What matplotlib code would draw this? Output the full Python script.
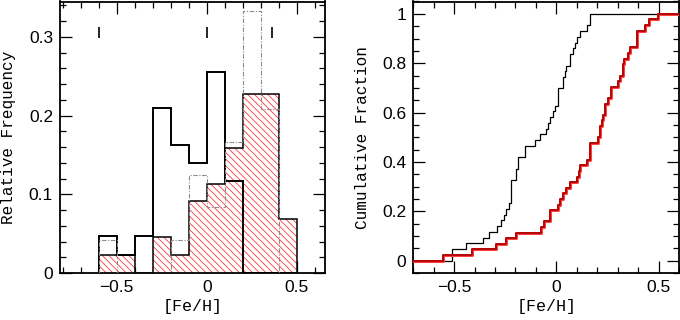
import numpy as np
import matplotlib
matplotlib.use("Agg")
import matplotlib.pyplot as plt
from matplotlib.ticker import MultipleLocator, FuncFormatter

# ---------------- data ----------------
bin_edges = np.round(np.arange(-0.6, 0.51, 0.1), 2)

# sorted [Fe/H] of the two samples
black_feh = [-0.513, -0.513, -0.443, -0.361, -0.331,
             -0.292, -0.270, -0.258, -0.246, -0.233, -0.221, -0.221, -0.221, -0.221,
             -0.199, -0.199, -0.190, -0.190, -0.155, -0.155,
             -0.107, -0.082, -0.053, -0.041, -0.030, -0.016, -0.008,
             0.008, 0.008, 0.008, 0.030, 0.030, 0.041, 0.049, 0.069, 0.069, 0.079, 0.090,
             0.102, 0.118, 0.148, 0.164, 0.164]
red_feh = [-0.553, -0.413, -0.295, -0.246, -0.197,
           -0.074, -0.062, -0.030, -0.030,
           0.008, 0.020, 0.030, 0.046, 0.069,
           0.102, 0.111, 0.118, 0.152, 0.164, 0.164, 0.164,
           0.205, 0.213, 0.213, 0.221, 0.229, 0.238, 0.238, 0.251, 0.267, 0.267,
           0.303, 0.311, 0.325, 0.325, 0.331, 0.352, 0.361, 0.394, 0.394, 0.394,
           0.434, 0.451, 0.499]
# third (comparison) sample, counts per bin
gray_counts = [1, 0, 0, 0, 1, 3, 2, 4, 8, 5, 0]
# short markers at top of the histogram panel
mark_feh = [-0.60, 0.00, 0.36]

# ---------------- derived ----------------
black_counts, _ = np.histogram(black_feh, bins=bin_edges)
red_counts, _ = np.histogram(red_feh, bins=bin_edges)
black_frac = black_counts / len(black_feh)
red_frac = red_counts / len(red_feh)
gray_frac = np.array(gray_counts) / np.sum(gray_counts)
centers = 0.5 * (bin_edges[:-1] + bin_edges[1:])
widths = np.diff(bin_edges)

plt.rcParams["hatch.linewidth"] = 0.55
tick_font = "Liberation Sans"
label_font = "Liberation Mono"


def fmt(v, pos):
    if abs(v) < 1e-9:
        return "0"
    return f"{v:g}".replace("-", "\u2212")


def style(ax, xmaj, xmin, ymaj, ymin):
    ax.xaxis.set_major_locator(MultipleLocator(xmaj))
    ax.xaxis.set_minor_locator(MultipleLocator(xmin))
    ax.yaxis.set_major_locator(MultipleLocator(ymaj))
    ax.yaxis.set_minor_locator(MultipleLocator(ymin))
    ax.xaxis.set_major_formatter(FuncFormatter(fmt))
    ax.yaxis.set_major_formatter(FuncFormatter(fmt))
    ax.tick_params(which="both", direction="in", top=True, right=True,
                   width=0.9, colors="black")
    ax.tick_params(which="major", length=8.5, labelsize=12.5, pad=5)
    ax.tick_params(which="minor", length=4.5)
    for lab in ax.get_xticklabels() + ax.get_yticklabels():
        lab.set_fontfamily(tick_font)
    for s in ax.spines.values():
        s.set_linewidth(1.3)


fig = plt.figure(figsize=(6.8, 3.2), dpi=100)

# ---------------- left: histograms ----------------
ax1 = fig.add_axes([60 / 680, 47 / 320, 265 / 680, 271.5 / 320])
ax1.bar(centers, red_frac, width=widths, color="white", edgecolor="#ff2a2a",
        hatch="\\\\\\\\\\", linewidth=0, zorder=2)
ax1.stairs(red_frac, bin_edges, baseline=0, color="black", linewidth=1.1, zorder=3)
ax1.stairs(black_frac, bin_edges, baseline=0, color="black", linewidth=1.4, zorder=4)
ax1.stairs(gray_frac, bin_edges, baseline=0, color="0.55", linewidth=0.8,
           linestyle=(0, (4, 1.5, 1, 1.5)), zorder=5)
ax1.vlines(mark_feh, 0.298, 0.313, color="black", linewidth=1.2, zorder=6)
ax1.set_xlim(-0.815, 0.657)
ax1.set_ylim(0, 0.345)
style(ax1, 0.5, 0.1, 0.1, 0.02)
ax1.set_xlabel("[Fe/H]", fontfamily=label_font, fontsize=12, labelpad=3)
ax1.set_ylabel("Relative Frequency", fontfamily=label_font, fontsize=11.5, labelpad=9.5)

# ---------------- right: cumulative ----------------
ax2 = fig.add_axes([413.3 / 680, 47 / 320, 265.7 / 680, 271.5 / 320])
xlo, xhi = -0.7, 0.6


def cdf_xy(vals):
    v = np.sort(vals)
    n = len(v)
    x = np.concatenate([[xlo], v, [xhi]])
    y = np.concatenate([[0], np.arange(1, n + 1) / n, [1]])
    return x, y


bx, by = cdf_xy(black_feh)
rx, ry = cdf_xy(red_feh)
ax2.step(bx, by, where="post", color="black", linewidth=0.9, zorder=3)
ax2.step(rx, ry, where="post", color="#ff4040", linewidth=2.2, zorder=4)
ax2.step(rx, ry, where="post", color="#a80000", linewidth=1.2, zorder=5)
ax2.set_xlim(xlo, xhi)
ax2.set_ylim(-0.05, 1.05)
style(ax2, 0.5, 0.1, 0.2, 0.05)
ax2.set_xlabel("[Fe/H]", fontfamily=label_font, fontsize=12, labelpad=3)
ax2.set_ylabel("Cumulative Fraction", fontfamily=label_font, fontsize=11.5, labelpad=8.5)

fig.savefig("out.png", dpi=100)
